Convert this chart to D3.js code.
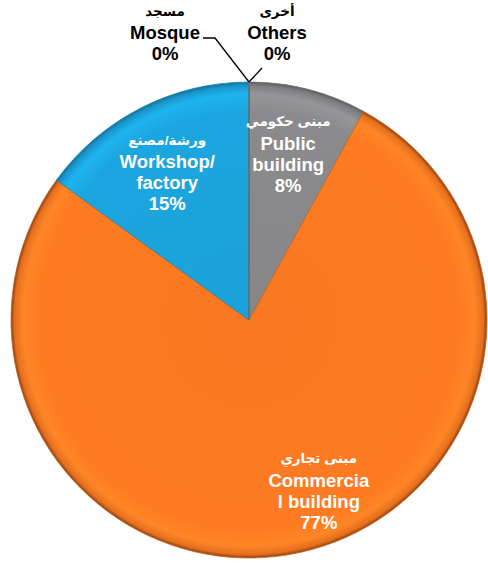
<!DOCTYPE html>
<html>
<head>
<meta charset="utf-8">
<script src="https://cdn.jsdelivr.net/npm/d3@7"></script>
<style>
  body { margin: 0; background: #fff; }
  svg { display: block; }
  text { font-family: "Liberation Sans", Arial, "DejaVu Sans", sans-serif; font-weight: bold; }
</style>
</head>
<body>
<div id="chart"></div>
<script>
// data
const arabicNames = ["مبنى حكومي", "مبنى تجاري", "ورشة/مصنع", "مسجد", "أخرى"];
const englishNames = [["Public", "building"], ["Commercia", "l building"], ["Workshop/", "factory"], ["Mosque"], ["Others"]];
const values = [8, 77, 15, 0, 0];
const colors = ["#8b8b8d", "#fe7b22", "#1ca6df", "#1ca6df", "#8b8b8d"];
const edgeColors = ["#5c5c5e", "#8a4010", "#136f96", "#136f96", "#5c5c5e"];

const width = 488, height = 564;
const cx = 249, cy = 320, R = 238;

// label placement (angle nudge in degrees, radius fraction)
const labelLayout = [
  {da: -1, rf: 0.71, dy: -2},
  {da: -9.5, rf: 0.78, dy: -1},
  {da: -1.5, rf: 0.72, dy: 3},
  {outside: true, x: 165, y: 12, lineTo: [[215, 38], [203, 38]]},
  {outside: true, x: 277, y: 12, lineTo: [[262, 68]]}
];

const svg = d3.select("#chart").append("svg")
  .attr("width", width)
  .attr("height", height);

const defs = svg.append("defs");
colors.forEach((c, i) => {
  let g = defs.append("radialGradient")
    .attr("id", "grad" + i)
    .attr("gradientUnits", "userSpaceOnUse")
    .attr("cx", 0).attr("cy", 0).attr("r", R);
  let base = d3.color(c);
  g.append("stop").attr("offset", "0%").attr("stop-color", base.darker(0.08));
  g.append("stop").attr("offset", "88%").attr("stop-color", base);
  g.append("stop").attr("offset", "95%").attr("stop-color", base.brighter(0.22));
  g.append("stop").attr("offset", "98.5%").attr("stop-color", base.darker(0.3));
  g.append("stop").attr("offset", "100%").attr("stop-color", edgeColors[i]);
});

const pie = d3.pie().sort(null).value(d => d);
const arcs = pie(values);
const arc = d3.arc().innerRadius(0).outerRadius(R);

const g = svg.append("g").attr("transform", `translate(${cx},${cy})`);

g.selectAll("path.slice")
  .data(arcs)
  .enter()
  .append("path")
  .attr("class", "slice")
  .attr("d", arc)
  .attr("fill", (d, i) => `url(#grad${i})`)
  .attr("stroke", (d, i) => d3.color(colors[i]).darker(0.6))
  .attr("stroke-width", 0.8)
  .attr("stroke-linejoin", "round");

// labels
const lineH = 21;
arcs.forEach((d, i) => {
  let lay = labelLayout[i];
  let lines = [arabicNames[i]].concat(englishNames[i]).concat([values[i] + "%"]);
  let x, y, fill;
  if (lay.outside) {
    x = lay.x; y = lay.y; fill = "#000";
    let a = d.startAngle;
    let px = cx + R * Math.sin(a), py = cy - R * Math.cos(a);
    let pts = [[px, py]].concat(lay.lineTo);
    svg.append("path")
      .attr("d", d3.line()(pts))
      .attr("fill", "none")
      .attr("stroke", "#000")
      .attr("stroke-width", 1.3);
  } else {
    let mid = (d.startAngle + d.endAngle) / 2 + lay.da * Math.PI / 180;
    let r = R * lay.rf;
    x = cx + r * Math.sin(mid);
    y = cy - r * Math.cos(mid) - (lines.length - 1) * lineH / 2 + lay.dy;
    fill = "#fff";
  }
  let t = svg.append("text")
    .attr("text-anchor", "middle")
    .attr("fill", fill);
  lines.forEach((ln, k) => {
    t.append("tspan")
      .attr("x", x)
      .attr("y", y + k * lineH - (k === 0 ? 1 : 0))
      .attr("dy", "0.35em")
      .style("font-size", k === 0 ? "13.5px" : "18.5px")
      .text(ln);
  });
});
</script>
</body>
</html>
